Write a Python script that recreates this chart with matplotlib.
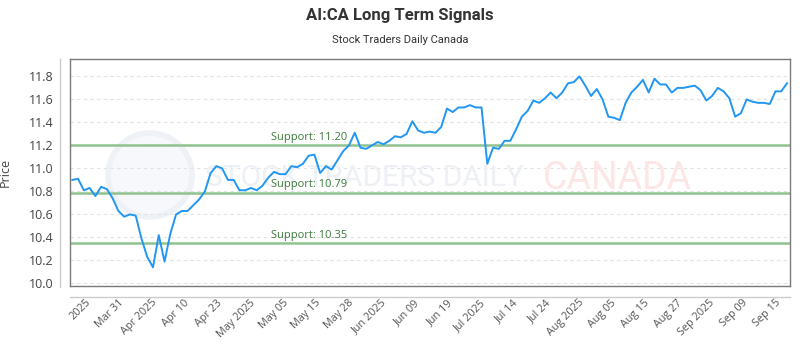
import matplotlib
matplotlib.use('Agg')
import matplotlib.pyplot as plt
from matplotlib.lines import Line2D
from matplotlib.patches import Circle
from matplotlib.transforms import IdentityTransform
import numpy as np

# closing prices, one per trading day
prices = [10.90, 10.91, 10.81, 10.83, 10.76, 10.84, 10.82, 10.74, 10.63, 10.58,
          10.60, 10.59, 10.39, 10.23, 10.14, 10.42, 10.19, 10.43, 10.60, 10.63,
          10.63, 10.68, 10.73, 10.80, 10.96, 11.02, 11.00, 10.90, 10.90, 10.81,
          10.81, 10.83,
          10.81, 10.85, 10.92, 10.97, 10.95, 10.95, 11.02, 11.01, 11.04, 11.11,
          11.12, 10.96, 11.02, 10.99, 11.07, 11.15, 11.20, 11.31, 11.18, 11.17,
          11.20, 11.23, 11.21, 11.24, 11.28, 11.27, 11.30, 11.41, 11.33, 11.31,
          11.32, 11.31, 11.36, 11.52, 11.49, 11.53, 11.53, 11.55, 11.53, 11.53,
          11.04, 11.18, 11.17, 11.24, 11.24, 11.34, 11.45, 11.50, 11.59, 11.57,
          11.61, 11.66, 11.61, 11.66, 11.74, 11.75, 11.80, 11.72, 11.63, 11.69,
          11.60, 11.45, 11.44, 11.42, 11.57, 11.66, 11.71, 11.77, 11.66, 11.78,
          11.73, 11.73, 11.66, 11.70, 11.70, 11.71, 11.72, 11.68, 11.59, 11.63,
          11.70, 11.67, 11.61, 11.45, 11.48, 11.60, 11.58, 11.57, 11.57, 11.56,
          11.67, 11.67, 11.74]

supports = [11.20, 10.79, 10.35]

tick_labels = ['2025', 'Mar 31', 'Apr 2025', 'Apr 10', 'Apr 23', 'May 2025',
               'May 05', 'May 15', 'May 28', 'Jun 2025', 'Jun 09', 'Jun 19',
               'Jul 2025', 'Jul 14', 'Jul 24', 'Aug 2025', 'Aug 05', 'Aug 15',
               'Aug 27', 'Sep 2025', 'Sep 09', 'Sep 15']

plt.rcParams['font.family'] = ['Open Sans', 'DejaVu Sans']
narrow = ['Liberation Sans Narrow', 'Roboto', 'DejaVu Sans']

fig = plt.figure(figsize=(8, 3.5), dpi=100)
ax = fig.add_axes([0.0875, 0.183, 0.9, 0.648])

x = np.arange(len(prices))
ax.plot(x, prices, color='#2196f3', lw=1.4, zorder=3)

for s in supports:
    ax.axhline(s, color='#8fc28f', lw=1.8, zorder=2)
    ax.annotate('Support: %.2f' % s, (34.5, s), xytext=(0, 1.5),
                textcoords='offset points', va='bottom', ha='left',
                fontsize=8, color='#3d7a3d', zorder=4)

ax.set_xlim(-0.4, len(prices) - 0.48)
ax.set_ylim(9.978, 11.95)
ax.set_yticks(np.arange(10.0, 11.81, 0.2))
ax.set_yticklabels(['%.1f' % v for v in np.arange(10.0, 11.81, 0.2)])
ax.set_xticks(np.linspace(3.0, 122.6, len(tick_labels)))
ax.set_xticklabels(tick_labels, rotation=45, ha='right', rotation_mode='anchor', va='center')
ax.tick_params(axis='y', length=0, pad=12, labelsize=9, labelcolor='#444')
ax.tick_params(axis='x', length=0, pad=11, labelsize=7.8, labelcolor='#555')
ax.grid(axis='y', color='#e2e2e2', lw=0.8, ls=(0, (3, 3)))
ax.set_axisbelow(True)
for sp in ax.spines.values():
    sp.set_color('#7a7a7a')
    sp.set_linewidth(1.0)
ax.set_ylabel('Price', fontsize=9, color='#444', labelpad=12)

# faint watermark, behind the data
ax.add_artist(Circle((150, 175), 42, transform=IdentityTransform(), fc='#f6f8fb',
                     ec='#eef1f6', lw=4, zorder=0.5, clip_on=False))
ax.text(0.256, 0.49, 'STOCK TRADERS DAILY', transform=fig.transFigure, fontsize=21.5,
        color='#edf0f5', family=narrow, va='center', ha='left', zorder=0.6)
ax.text(0.679, 0.49, 'CANADA', transform=fig.transFigure, fontsize=27,
        color='#fde6e6', family=['Roboto', 'DejaVu Sans'], va='center', ha='left',
        zorder=0.6)

# outer axis rules
fig.add_artist(Line2D([0.075, 0.075], [0.18, 0.831], color='#cccccc', lw=1))
fig.add_artist(Line2D([0.0875, 0.9875], [0.151, 0.151], color='#cccccc', lw=1))

fig.text(0.5, 0.957, 'AI:CA Long Term Signals', ha='center', va='center',
         fontsize=12, fontweight='bold', color='#333', family=narrow)
fig.text(0.5, 0.886, 'Stock Traders Daily Canada', ha='center', va='center',
         fontsize=8, color='#333', family=narrow)

fig.savefig('out.png', dpi=100)
